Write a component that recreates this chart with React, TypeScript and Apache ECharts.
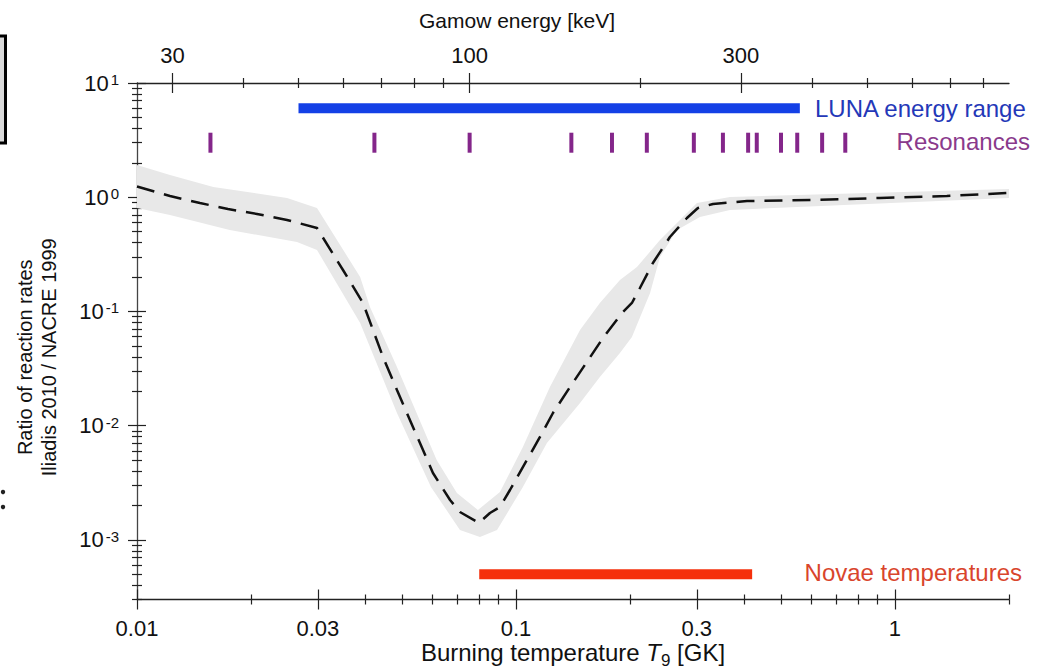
import React, { useEffect, useRef } from "react";
import * as echarts from "echarts";

// ---------- data ----------
const T_MIN = 0.01;
const T_MAX = 2;
const Y_MIN = 3e-4;
const Y_MAX = 10;
// Gamow energy E0 [keV] = GAMOW_COEF * T9^(2/3)  (22Ne + p)
const GAMOW_COEF = 560;

const bottomMajorTicks = [0.01, 0.03, 0.1, 0.3, 1];
const bottomMinorTicks = [0.02, 0.04, 0.05, 0.06, 0.07, 0.08, 0.09, 0.2, 0.4, 0.5, 0.6, 0.7, 0.8, 0.9, 2];
const topMajorTicks = [30, 100, 300];
const topMinorTicks = [40, 50, 60, 70, 80, 90, 200, 400, 500, 600, 700, 800];
const yMajorTicks = [1e-3, 1e-2, 1e-1, 1, 10];
const yMinorTicks = [
  3e-4, 4e-4, 5e-4, 6e-4, 7e-4, 8e-4, 9e-4,
  2e-3, 3e-3, 4e-3, 5e-3, 6e-3, 7e-3, 8e-3, 9e-3,
  0.02, 0.03, 0.04, 0.05, 0.06, 0.07, 0.08, 0.09,
  0.2, 0.3, 0.4, 0.5, 0.6, 0.7, 0.8, 0.9,
  2, 3, 4, 5, 6, 7, 8, 9,
];

// ratio Iliadis 2010 / NACRE 1999 (central)
const curveT = [0.01, 0.01222, 0.01466, 0.01738, 0.02073, 0.02488, 0.02985, 0.03496, 0.03948, 0.04458, 0.04853, 0.05348, 0.06039, 0.067, 0.07115, 0.07986, 0.08538, 0.09074, 0.09643, 0.1069, 0.1157, 0.1252, 0.1389, 0.1539, 0.1697, 0.1905, 0.2023, 0.2124, 0.2298, 0.2548, 0.2826, 0.3021, 0.3311, 0.407, 0.6075, 0.913, 1.371, 2.0];
const curveRatio = [1.24, 1.024, 0.89, 0.788, 0.713, 0.632, 0.537, 0.2305, 0.1185, 0.0399, 0.0205, 0.00972, 0.003845, 0.002232, 0.001752, 0.001404, 0.001717, 0.001937, 0.002729, 0.005, 0.00795, 0.01289, 0.02178, 0.0361, 0.0585, 0.0968, 0.1185, 0.1603, 0.2653, 0.4482, 0.6574, 0.804, 0.872, 0.926, 0.945, 0.984, 1.024, 1.09];

// uncertainty band
const bandUpperT = [0.01, 0.01222, 0.0159, 0.02488, 0.02985, 0.0388, 0.04119, 0.04853, 0.06177, 0.06985, 0.07936, 0.09074, 0.1043, 0.1229, 0.1476, 0.1665, 0.1881, 0.2086, 0.2399, 0.3003, 0.3669, 2.0];
const bandUpper = [1.914, 1.564, 1.228, 0.984, 0.804, 0.2, 0.1093, 0.0326, 0.005, 0.00257, 0.001824, 0.00262, 0.0065, 0.02178, 0.0687, 0.1185, 0.1884, 0.2448, 0.4218, 0.89, 1.004, 1.18];
const bandLowerT = [0.01, 0.01222, 0.01757, 0.02644, 0.02985, 0.0388, 0.04853, 0.05966, 0.07115, 0.08035, 0.08913, 0.1043, 0.1207, 0.1476, 0.1665, 0.1881, 0.2023, 0.2259, 0.2399, 0.266, 0.3058, 0.3669, 2.0];
const bandLower = [0.804, 0.698, 0.516, 0.405, 0.345, 0.0791, 0.01289, 0.0029, 0.001219, 0.001058, 0.001219, 0.0029, 0.00704, 0.01577, 0.02665, 0.0432, 0.0597, 0.145, 0.2996, 0.516, 0.671, 0.773, 0.984];

// resonance energies (c.m., keV)
const resonanceKeV = [35, 68, 100, 151, 178, 205, 248, 279, 309, 320, 353, 377, 417, 458];
const lunaRangeKeV = [50, 381];
const novaeRangeGK = [0.08, 0.42];

const LUNA_LEVEL = 6;
const RES_LEVEL = 3;
const NOVAE_LEVEL = 5e-4;

// ---------- helpers ----------
const lg = (v: number) => Math.log10(v);
const tFromE = (e: number) => Math.pow(e / GAMOW_COEF, 1.5);
const FONT = '"Liberation Sans", Arial, Helvetica, sans-serif';
const AX = "#222";

function fmtT(v: number) {
  return String(parseFloat(Math.pow(10, v).toPrecision(3)));
}
function fmtE(v: number) {
  return String(Math.round(GAMOW_COEF * Math.pow(10, (v * 2) / 3)));
}

function xAxisSet(position: "top" | "bottom", major: number[], minor: number[], extra: any) {
  const base = {
    type: "value",
    position,
    min: lg(T_MIN),
    max: lg(T_MAX),
    splitLine: { show: false },
    axisLine: { show: false, onZero: false },
    axisLabel: { show: false },
  };
  const tick = (vals: number[], inside: boolean, length: number) => ({
    show: true,
    inside,
    length,
    customValues: vals,
    lineStyle: { color: AX, width: 1.2 },
  });
  return [
    {
      ...base,
      ...extra,
      axisLine: { show: true, onZero: false, lineStyle: { color: AX, width: 1.3 } },
      axisTick: tick(major, false, 10),
    },
    { ...base, axisTick: tick(major, true, 10) },
    { ...base, axisTick: tick(minor, false, 5) },
    { ...base, axisTick: tick(minor, true, 5) },
  ];
}

export default function App() {
  const ref = useRef<HTMLDivElement>(null);

  useEffect(() => {
    if (!ref.current) return;
    const chart = echarts.init(ref.current, undefined, { renderer: "svg" });

    const bottomLx = bottomMajorTicks.map(lg);
    const bottomMinLx = bottomMinorTicks.map(lg);
    const topLx = topMajorTicks.map((e) => lg(tFromE(e)));
    const topMinLx = topMinorTicks.map((e) => lg(tFromE(e)));
    const yMajLy = yMajorTicks.map(lg);
    const yMinLy = yMinorTicks.map(lg);

    const xAxes = [
      ...xAxisSet("bottom", bottomLx, bottomMinLx, {
        axisLabel: {
          show: true,
          customValues: bottomLx,
          formatter: fmtT,
          fontSize: 22,
          lineHeight: 22,
          fontFamily: FONT,
          color: "#111",
          margin: 18,
        },
        name: "Burning temperature {i|T}{s|9} [GK]",
        nameLocation: "middle",
        nameGap: 41,
        nameMoveOverlap: false,
        nameTextStyle: {
          fontSize: 24,
          lineHeight: 24,
          fontFamily: FONT,
          color: "#111",
          rich: {
            i: { fontSize: 24, lineHeight: 24, fontStyle: "italic", fontFamily: FONT, color: "#111" },
            s: { fontSize: 17, fontFamily: FONT, color: "#111", verticalAlign: "bottom", padding: [0, 0, -4, 0] },
          },
        },
      }),
      ...xAxisSet("top", topLx, topMinLx, {
        axisLabel: {
          show: true,
          customValues: topLx,
          formatter: fmtE,
          fontSize: 22,
          fontFamily: FONT,
          color: "#111",
          margin: 17,
        },
        name: "Gamow energy [keV]",
        nameLocation: "middle",
        nameGap: 52,
        nameTextStyle: { fontSize: 21, fontFamily: FONT, color: "#111", padding: [0, 112, 0, 0] },
      }),
    ];

    const yBase = {
      type: "value",
      position: "left",
      min: lg(Y_MIN),
      max: lg(Y_MAX),
      splitLine: { show: false },
      axisLine: { show: false, onZero: false },
      axisLabel: { show: false },
    };
    const ytick = (vals: number[], inside: boolean, length: number) => ({
      show: true,
      inside,
      length,
      customValues: vals,
      lineStyle: { color: AX, width: 1.2 },
    });
    const yAxes = [
      {
        ...yBase,
        axisLine: { show: true, onZero: false, lineStyle: { color: "#444", width: 1.3 } },
        axisTick: ytick(yMajLy, false, 9),
        axisLabel: {
          show: true,
          customValues: yMajLy,
          formatter: (v: number) => `{b|10}{s|${Math.round(v)}}`,
          margin: 18,
          rich: {
            b: { fontSize: 22, fontFamily: FONT, color: "#111" },
            s: { fontSize: 15, fontFamily: FONT, color: "#111", verticalAlign: "top", padding: [0, 0, 4, 2] },
          },
        },
        name: "Ratio of reaction rates\nIliadis 2010 / NACRE 1999",
        nameLocation: "middle",
        nameRotate: 90,
        nameGap: 76,
        nameTextStyle: { fontSize: 20, fontFamily: FONT, color: "#111", lineHeight: 24, padding: [0, 32, 0, 0] },
      },
      { ...yBase, axisTick: ytick(yMajLy, true, 9) },
      { ...yBase, axisTick: ytick(yMinLy, false, 5) },
      { ...yBase, axisTick: ytick(yMinLy, true, 5) },
    ];

    const bandSeries = {
      type: "custom",
      xAxisIndex: 0,
      yAxisIndex: 0,
      silent: true,
      z: 1,
      data: [[lg(bandUpperT[0]), lg(bandUpper[0])]],
      renderItem: (_p: any, api: any) => {
        const up = bandUpperT.map((t, i) => api.coord([lg(t), lg(bandUpper[i])]));
        const lo = bandLowerT.map((t, i) => api.coord([lg(t), lg(bandLower[i])])).reverse();
        return {
          type: "polygon",
          shape: { points: up.concat(lo) },
          style: { fill: "#e8e8e8" },
        };
      },
    };

    const option: any = {
      animation: false,
      backgroundColor: "#fff",
      grid: { left: 137, right: 36, top: 83, bottom: 71.5, containLabel: false, outerBoundsMode: "none" },
      xAxis: xAxes,
      yAxis: yAxes,
      series: [
        bandSeries,
        {
          type: "line",
          name: "ratio",
          xAxisIndex: 0,
          yAxisIndex: 0,
          z: 3,
          symbol: "none",
          data: curveT.map((t, i) => [lg(t), lg(curveRatio[i])]),
          lineStyle: { color: "#111", width: 2.5, type: [18, 10] },
        },
        {
          type: "line",
          name: "LUNA energy range",
          xAxisIndex: 0,
          yAxisIndex: 0,
          z: 4,
          symbol: "none",
          data: lunaRangeKeV.map((e) => [lg(tFromE(e)), lg(LUNA_LEVEL)]),
          lineStyle: { color: "#1440e6", width: 10, cap: "butt" },
        },
        {
          type: "scatter",
          name: "Resonances",
          xAxisIndex: 0,
          yAxisIndex: 0,
          z: 4,
          symbol: "rect",
          symbolSize: [4, 20],
          data: resonanceKeV.map((e) => [lg(tFromE(e)), lg(RES_LEVEL)]),
          itemStyle: { color: "#84268a", opacity: 1 },
        },
        {
          type: "line",
          name: "Novae temperatures",
          xAxisIndex: 0,
          yAxisIndex: 0,
          z: 4,
          symbol: "none",
          data: novaeRangeGK.map((t) => [lg(t), lg(NOVAE_LEVEL)]),
          lineStyle: { color: "#f5300c", width: 10, cap: "butt" },
        },
      ],
      graphic: [
        {
          type: "text",
          x: 815,
          y: 108,
          style: { text: "LUNA energy range", fontSize: 24, fontFamily: FONT, fill: "#2438b8", verticalAlign: "middle" },
          silent: true,
        },
        {
          type: "text",
          x: 1030,
          y: 141,
          style: { text: "Resonances", fontSize: 24, fontFamily: FONT, fill: "#8a3a8c", align: "right", verticalAlign: "middle" },
          silent: true,
        },
        {
          type: "text",
          x: 1022,
          y: 572,
          style: { text: "Novae temperatures", fontSize: 24, fontFamily: FONT, fill: "#d9452c", align: "right", verticalAlign: "middle" },
          silent: true,
        },
        {
          type: "rect",
          shape: { x: -10, y: 36, width: 15.5, height: 107 },
          style: { fill: "#d9d9d9", stroke: "#000", lineWidth: 3 },
          silent: true,
        },
        { type: "circle", shape: { cx: 3, cy: 492, r: 2.2 }, style: { fill: "#222" }, silent: true },
        { type: "circle", shape: { cx: 3, cy: 507, r: 2.2 }, style: { fill: "#222" }, silent: true },
      ],
    };

    chart.setOption(option);
    return () => chart.dispose();
  }, []);

  return (
    <div
      ref={ref}
      style={{ position: "fixed", left: 0, top: 0, width: 1045, height: 671, background: "#fff" }}
    />
  );
}
